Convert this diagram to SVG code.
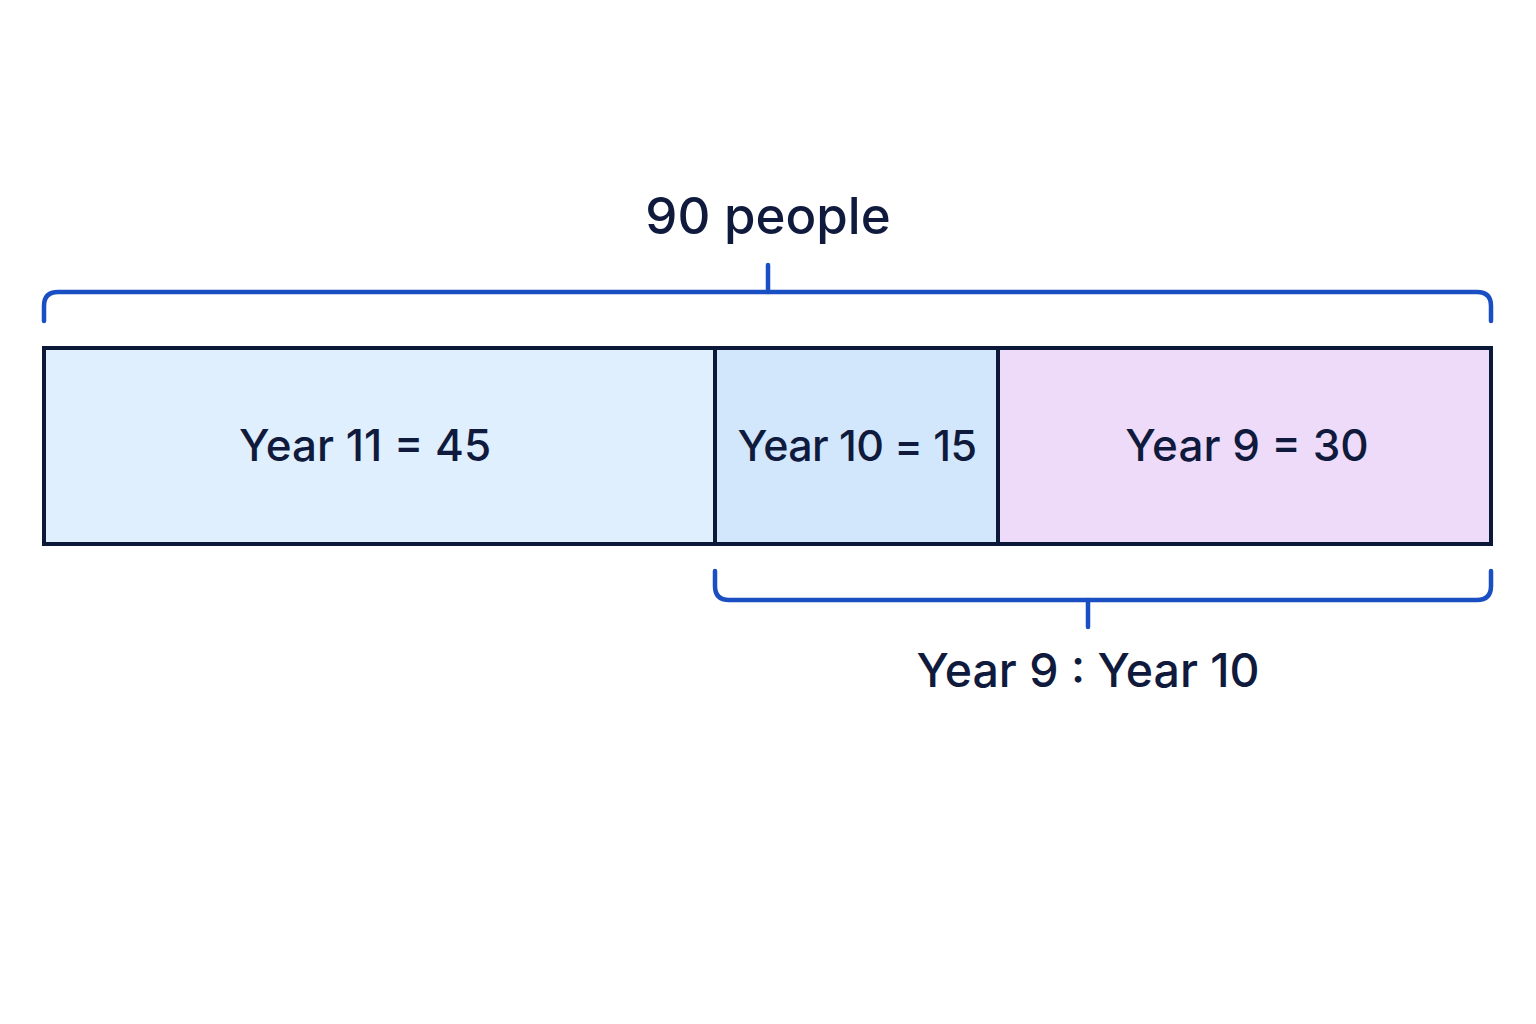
<svg xmlns="http://www.w3.org/2000/svg" width="1536" height="1024" viewBox="0 0 1536 1024">
<style>
.lbl{font-family:Inter,"Noto Sans","Liberation Sans",sans-serif;fill:#0f1a3d;text-anchor:middle;font-weight:500}
.seg{stroke:#0c1838;stroke-width:4}
.brace{fill:none;stroke:#1a4fc4;stroke-width:4.5;stroke-linecap:round;stroke-linejoin:round}
</style>
<rect width="1536" height="1024" fill="#ffffff"/>
<g id="title"><text class="lbl" x="768" y="234" font-size="51">90 people</text></g>
<g id="connectors">
<path class="brace" d="M44,321 V306 Q44,292 58,292 H1477 Q1491,292 1491,306 V321"/>
<path class="brace" d="M768,292 V265"/>
<path class="brace" d="M715,571 V586 Q715,600 729,600 H1477 Q1491,600 1491,586 V571"/>
<path class="brace" d="M1088,600 V627"/>
</g>
<g id="year11"><rect class="seg" x="44" y="348" width="671" height="196" fill="#e0effd"/>
<text class="lbl" x="365" y="461" font-size="44">Year 11 = 45</text></g>
<g id="year10"><rect class="seg" x="715" y="348" width="283" height="196" fill="#d2e7fb"/>
<text class="lbl" x="857" y="461" font-size="43" letter-spacing="-0.6">Year 10 = 15</text></g>
<g id="year9"><rect class="seg" x="998" y="348" width="493" height="196" fill="#eedaf9"/>
<text class="lbl" x="1247" y="461" font-size="44">Year 9 = 30</text></g>
<g id="ratio"><text class="lbl" x="1088" y="687" font-size="46.5">Year 9 : Year 10</text></g>
</svg>
